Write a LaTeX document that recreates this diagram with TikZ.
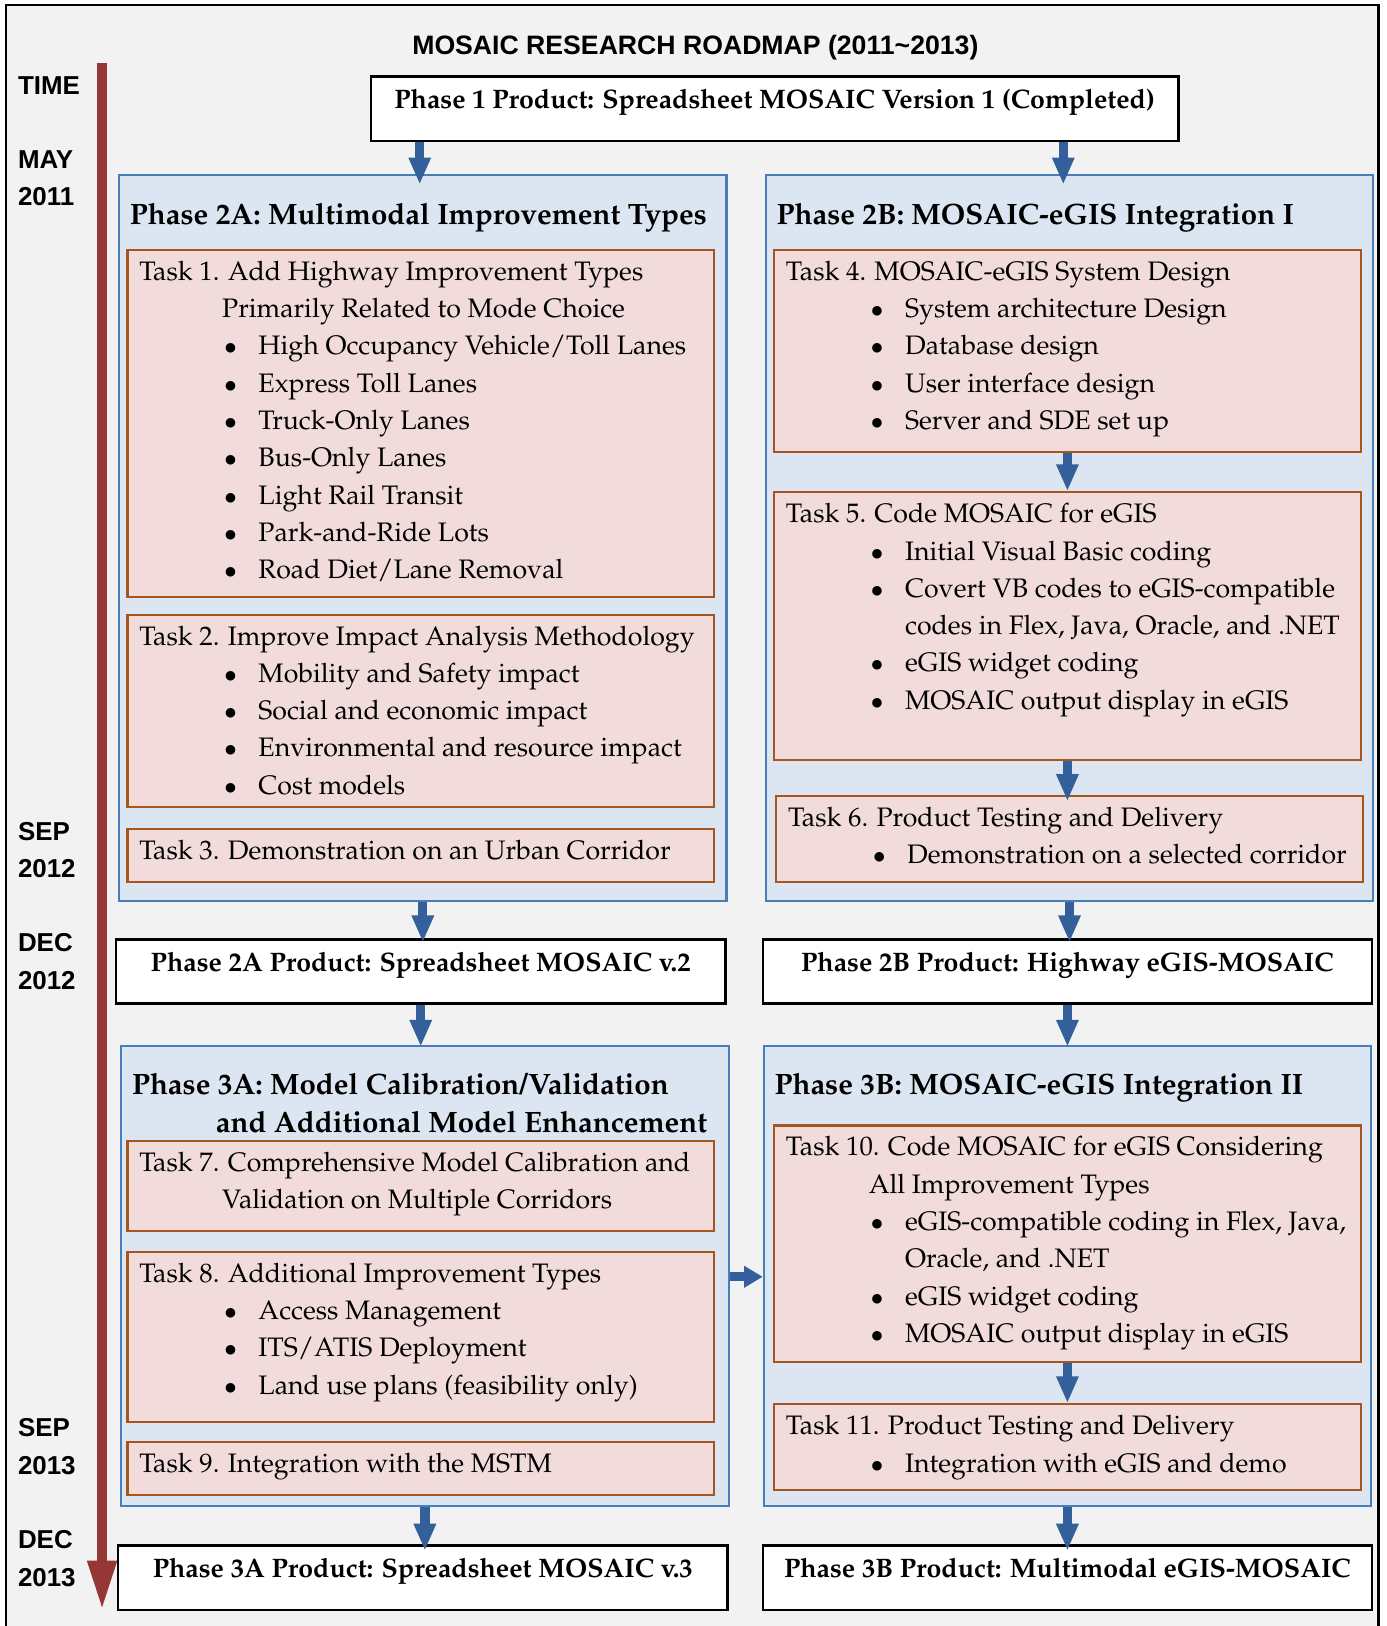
\documentclass[tikz,border=0pt]{standalone}
\usepackage[T1]{fontenc}
\usepackage{fontspec}
\setsansfont{Liberation Sans}
\usetikzlibrary{arrows.meta, positioning}

\definecolor{framegray}{HTML}{F2F2F2}
\definecolor{phasefill}{HTML}{DCE6F2}
\definecolor{phaseline}{HTML}{4A7EBB}
\definecolor{taskfill}{HTML}{F2DCDB}
\definecolor{taskline}{HTML}{A5551E}
\definecolor{arrowblue}{HTML}{33609A}
\definecolor{timered}{HTML}{953735}

\newcommand{\pal}{\fontencoding{T1}\fontfamily{ppl}\selectfont}
\newcommand{\tbul}{\hspace*{41pt}\makebox[16.5pt][l]{$\bullet$}}
\newcommand{\tgap}{\hspace*{57.5pt}}

\tikzstyle{phasebox} = [rectangle, draw=phaseline, line width=1pt, fill=phasefill, minimum width=293pt, anchor=north west, inner sep=0pt]
\tikzstyle{taskbox} = [rectangle, draw=taskline, line width=1pt, fill=taskfill, minimum width=283pt, anchor=north west, inner sep=0pt]
\tikzstyle{prodbox} = [rectangle, draw=black, line width=1.2pt, fill=white, minimum width=294pt, minimum height=31pt, text height=9pt, text depth=9pt, inner sep=0pt, font=\pal\bfseries\fontsize{12.9}{15}\selectfont]
\tikzstyle{tasktext} = [anchor=north west, align=left, inner sep=0pt, font=\pal\fontsize{12.9}{18}\selectfont]
\tikzstyle{phasetitle} = [anchor=north west, align=left, inner sep=0pt, font=\pal\bfseries\fontsize{14.2}{18}\selectfont]
\tikzstyle{timelabel} = [anchor=west, align=left, inner sep=0pt, font=\sffamily\bfseries\fontsize{12.5}{18}\selectfont]
\tikzstyle{barrow} = [draw=arrowblue, line width=4.5pt, -{Triangle[width=10pt, length=13pt]}]
\tikzstyle{timearrow} = [draw=timered, line width=5pt, -{Triangle[width=13pt, length=24pt]}]

\begin{document}
\begin{tikzpicture}[x=0.5pt, y=-0.5pt]
\useasboundingbox (0,0) rectangle (1338,1569);
\draw[fill=framegray, line width=1.2pt] (6,5) rectangle (1330,1600);

% title and time line
\node (title) [font=\sffamily\bfseries\fontsize{12.85}{15}\selectfont] at (671,46) {MOSAIC RESEARCH ROADMAP (2011\textasciitilde 2013)};
\node (time) [timelabel] at (17,83) {TIME};
\node (may11) [timelabel] at (17,172) {MAY\\2011};
\node (sep12) [timelabel] at (17,820) {SEP\\2012};
\node (dec12) [timelabel] at (17,928) {DEC\\2012};
\node (sep13) [timelabel] at (17,1396) {SEP\\2013};
\node (dec13) [timelabel] at (17,1504) {DEC\\2013};
\coordinate (ttop) at (98.5,61);
\coordinate (tend) at (98.5,1554);
\draw[timearrow] (ttop) -- (tend);

% products
\node (p1) [prodbox, minimum width=389.5pt] at (747.5,105) {Phase 1 Product: Spreadsheet MOSAIC Version 1 (Completed)};
\node (p2a) [prodbox] at (406,937.5) {Phase 2A Product: Spreadsheet MOSAIC v.2};
\node (p2b) [prodbox] at (1030,937.5) {Phase 2B Product: Highway eGIS-MOSAIC};
\node (p3a) [prodbox] at (408,1522.5) {Phase 3A Product: Spreadsheet MOSAIC v.3};
\node (p3b) [prodbox] at (1030,1522.5) {Phase 3B Product: Multimodal eGIS-MOSAIC};

% phase 2
\node (c2a) [phasebox, minimum height=350pt] at (114,168) {};
\node (c2b) [phasebox, minimum height=350pt] at (738,168) {};
\node (c2atitle) [phasetitle, below right=11.4pt and 5.5pt of c2a.north west] {\strut Phase 2A: Multimodal Improvement Types};
\node (c2btitle) [phasetitle, below right=11.4pt and 5.5pt of c2b.north west] {\strut Phase 2B: MOSAIC-eGIS Integration I};

\node (t1) [taskbox, minimum height=167.5pt] at (122,240) {};
\node (t2) [taskbox, minimum height=93pt] at (122,592) {};
\node (t3) [taskbox, minimum height=25.5pt] at (122,799) {};
\node (t4) [taskbox, minimum height=97.5pt] at (746,240) {};
\node (t5) [taskbox, minimum height=129pt] at (746,474) {};
\node (t6) [taskbox, minimum height=41.5pt] at (748,767) {};

\node (t1text) [tasktext, below right=2.4pt and 6pt of t1.north west] {\strut Task 1. Add Highway Improvement Types\\
\hspace*{40pt}Primarily Related to Mode Choice\\
\tbul High Occupancy Vehicle/Toll Lanes\\
\tbul Express Toll Lanes\\
\tbul Truck-Only Lanes\\
\tbul Bus-Only Lanes\\
\tbul Light Rail Transit\\
\tbul Park-and-Ride Lots\\
\tbul Road Diet/Lane Removal};
\node (t2text) [tasktext, below right=2.4pt and 6pt of t2.north west] {\strut Task 2. Improve Impact Analysis Methodology\\
\tbul Mobility and Safety impact\\
\tbul Social and economic impact\\
\tbul Environmental and resource impact\\
\tbul Cost models};
\node (t3text) [tasktext, below right=2.4pt and 6pt of t3.north west] {\strut Task 3. Demonstration on an Urban Corridor};
\node (t4text) [tasktext, below right=2.4pt and 6pt of t4.north west] {\strut Task 4. MOSAIC-eGIS System Design\\
\tbul System architecture Design\\
\tbul Database design\\
\tbul User interface design\\
\tbul Server and SDE set up};
\node (t5text) [tasktext, below right=2.4pt and 6pt of t5.north west] {\strut Task 5. Code MOSAIC for eGIS\\
\tbul Initial Visual Basic coding\\
\tbul Covert VB codes to eGIS-compatible\\
\tgap codes in Flex, Java, Oracle, and .NET\\
\tbul eGIS widget coding\\
\tbul MOSAIC output display in eGIS};
\node (t6text) [tasktext, below right=2.4pt and 6pt of t6.north west] {\strut Task 6. Product Testing and Delivery\\
\tbul Demonstration on a selected corridor};

% phase 3
\node (c3a) [phasebox, minimum height=222pt] at (116,1008) {};
\node (c3b) [phasebox, minimum height=222pt] at (736,1008) {};
\node (c3atitle) [phasetitle, below right=11.4pt and 5.5pt of c3a.north west] {\strut Phase 3A: Model Calibration/Validation\\
\hspace*{40.5pt}and Additional Model Enhancement};
\node (c3btitle) [phasetitle, below right=11.4pt and 5.5pt of c3b.north west] {\strut Phase 3B: MOSAIC-eGIS Integration II};

\node (t7) [taskbox, minimum height=43.5pt] at (122,1100) {};
\node (t8) [taskbox, minimum height=82pt] at (122,1207) {};
\node (t9) [taskbox, minimum height=26pt] at (122,1390) {};
\node (t10) [taskbox, minimum height=114pt] at (746,1085) {};
\node (t11) [taskbox, minimum height=41.5pt] at (746,1354) {};

\node (t7text) [tasktext, below right=2.4pt and 6pt of t7.north west] {\strut Task 7. Comprehensive Model Calibration and\\
\hspace*{40pt}Validation on Multiple Corridors};
\node (t8text) [tasktext, below right=2.4pt and 6pt of t8.north west] {\strut Task 8. Additional Improvement Types\\
\tbul Access Management\\
\tbul ITS/ATIS Deployment\\
\tbul Land use plans (feasibility only)};
\node (t9text) [tasktext, below right=2.4pt and 6pt of t9.north west] {\strut Task 9. Integration with the MSTM};
\node (t10text) [tasktext, below right=2.4pt and 6pt of t10.north west] {\strut Task 10. Code MOSAIC for eGIS Considering\\
\hspace*{40pt}All Improvement Types\\
\tbul eGIS-compatible coding in Flex, Java,\\
\tgap Oracle, and .NET\\
\tbul eGIS widget coding\\
\tbul MOSAIC output display in eGIS};
\node (t11text) [tasktext, below right=2.4pt and 6pt of t11.north west] {\strut Task 11. Product Testing and Delivery\\
\tbul Integration with eGIS and demo};

% arrows
\draw[barrow, shorten >=-5pt] ([xshift=-1.5pt]p1.south -| c2a.north) -- ([xshift=-1.5pt]c2a.north);
\draw[barrow, shorten >=-5pt] ([xshift=-3pt]p1.south -| c2b.north) -- ([xshift=-3pt]c2b.north);
\draw[barrow] (t4.south) -- (t5.north);
\draw[barrow, shorten >=-3pt] (t5.south) -- (t5.south |- t6.north);
\draw[barrow, shorten >=-2pt] (c2a.south) -- (c2a.south |- p2a.north);
\draw[barrow, shorten >=-2pt] (c2b.south) -- (c2b.south |- p2b.north);
\draw[barrow, shorten >=-1pt] (p2a.south) -- (p2a.south |- c3a.north);
\draw[barrow, shorten >=-1pt] (p2b.south) -- (p2b.south |- c3b.north);
\draw[barrow] (t10.south) -- (t10.south |- t11.north);
\draw[barrow, shorten >=-3pt] (c3a.south) -- (c3a.south |- p3a.north);
\draw[barrow, shorten >=-3pt] (c3b.south) -- (c3b.south |- p3b.north);
\coordinate (hmid) at (720,1232);
\draw[barrow, -{Triangle[width=10pt, length=9pt]}] (c3a.east |- hmid) -- (c3b.west |- hmid);
\end{tikzpicture}
\end{document}
